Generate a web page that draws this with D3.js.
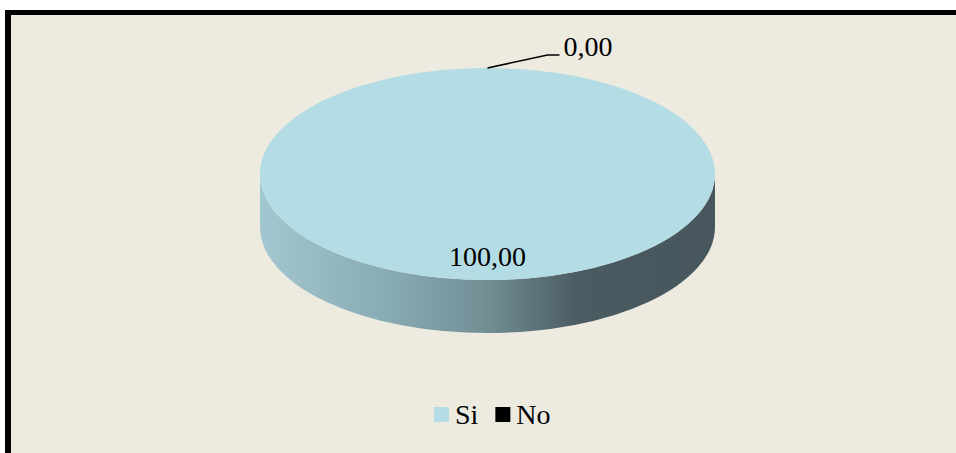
<!DOCTYPE html>
<html><head><meta charset="utf-8">
<script src="https://cdn.jsdelivr.net/npm/d3@7"></script>
<style>html,body{margin:0;padding:0;background:#fff;overflow:hidden;}svg{display:block;}</style>
</head><body>
<svg id="c" width="956" height="453"></svg>
<script>
const categories = ["Si", "No"];
const values = [100, 0];
const labels = ["100,00", "0,00"];
const colors = ["#b4dce5", "#000000"];

const W = 956, H = 453;
const svg = d3.select("#c");
const font = "'Liberation Serif','Times New Roman',serif";

// frame (right and bottom edges lie outside the picture)
svg.append("rect").attr("width", W).attr("height", H).attr("fill", "#fff");
svg.append("rect").attr("x", 5).attr("y", 10).attr("width", W - 5).attr("height", H - 10).attr("fill", "#000");
svg.append("rect").attr("x", 11).attr("y", 15).attr("width", W - 11).attr("height", H - 15).attr("fill", "#edeae0");

const cx = 487.5, cy = 174, rx = 227.5, ry = 106, depth = 53;
const k = ry / rx;

const pie = d3.pie().sort(null).value(d => d);
const arcs = pie(values);
const arcGen = d3.arc().innerRadius(0).outerRadius(rx);

const defs = svg.append("defs");
const grad = defs.append("linearGradient").attr("id", "side")
  .attr("gradientUnits", "userSpaceOnUse")
  .attr("x1", cx - rx).attr("x2", cx + rx).attr("y1", 0).attr("y2", 0);
[[0, "#a3c7d0"], [0.3, "#87a9b1"], [0.5, "#728e95"], [0.7, "#4b5b62"], [1, "#46565c"]]
  .forEach(([o, c]) => grad.append("stop").attr("offset", o).attr("stop-color", c));

const g = svg.append("g");
function pt(a, dy) { return [cx + rx * Math.sin(a), cy - ry * Math.cos(a) + (dy || 0)]; }
arcs.forEach((d, i) => {
  if (d.endAngle - d.startAngle <= 0) return;
  const a0 = Math.max(d.startAngle, Math.PI / 2), a1 = Math.min(d.endAngle, 3 * Math.PI / 2);
  if (a1 <= a0) return;
  const p0 = pt(a0), p1 = pt(a1), q1 = pt(a1, depth), q0 = pt(a0, depth);
  const path = `M${p0[0]},${p0[1]} A${rx},${ry} 0 0 1 ${p1[0]},${p1[1]} L${q1[0]},${q1[1]} A${rx},${ry} 0 0 0 ${q0[0]},${q0[1]} Z`;
  g.append("path").attr("d", path).attr("fill", "url(#side)");
});

arcs.forEach((d, i) => {
  if (d.endAngle - d.startAngle <= 0) return;
  g.append("path").attr("d", arcGen(d))
    .attr("transform", `translate(${cx},${cy}) scale(1,${k})`)
    .attr("fill", colors[i]);
});

arcs.forEach((d, i) => {
  const mid = (d.startAngle + d.endAngle) / 2;
  if (d.endAngle - d.startAngle > 0) {
    const r = 0.76;
    const x = cx + rx * r * Math.sin(mid), y = cy - ry * r * Math.cos(mid);
    svg.append("text").attr("x", x).attr("y", y + 11).attr("text-anchor", "middle")
      .attr("font-family", font).attr("font-size", 28).attr("fill", "#000").text(labels[i]);
  } else {
    const p = pt(mid);
    const p2 = [p[0] + 60, p[1] - 13];
    const p3 = [p2[0] + 12, p2[1]];
    svg.append("polyline").attr("points", [p, p2, p3].map(q => q.join(",")).join(" "))
      .attr("fill", "none").attr("stroke", "#000").attr("stroke-width", 1.5);
    svg.append("text").attr("x", p3[0] + 4).attr("y", p3[1] + 1).attr("text-anchor", "start")
      .attr("font-family", font).attr("font-size", 28).attr("fill", "#000").text(labels[i]);
  }
});

const leg = svg.append("g");
let lx = 434;
const ly = 407;
categories.forEach((c, i) => {
  leg.append("rect").attr("x", lx).attr("y", ly).attr("width", 15).attr("height", 15).attr("fill", colors[i]);
  const t = leg.append("text").attr("x", lx + 21).attr("y", ly + 17).attr("font-family", font)
    .attr("font-size", 28).attr("fill", "#000").text(c);
  lx += 21 + t.node().getComputedTextLength() + 17;
});
</script>
</body></html>
